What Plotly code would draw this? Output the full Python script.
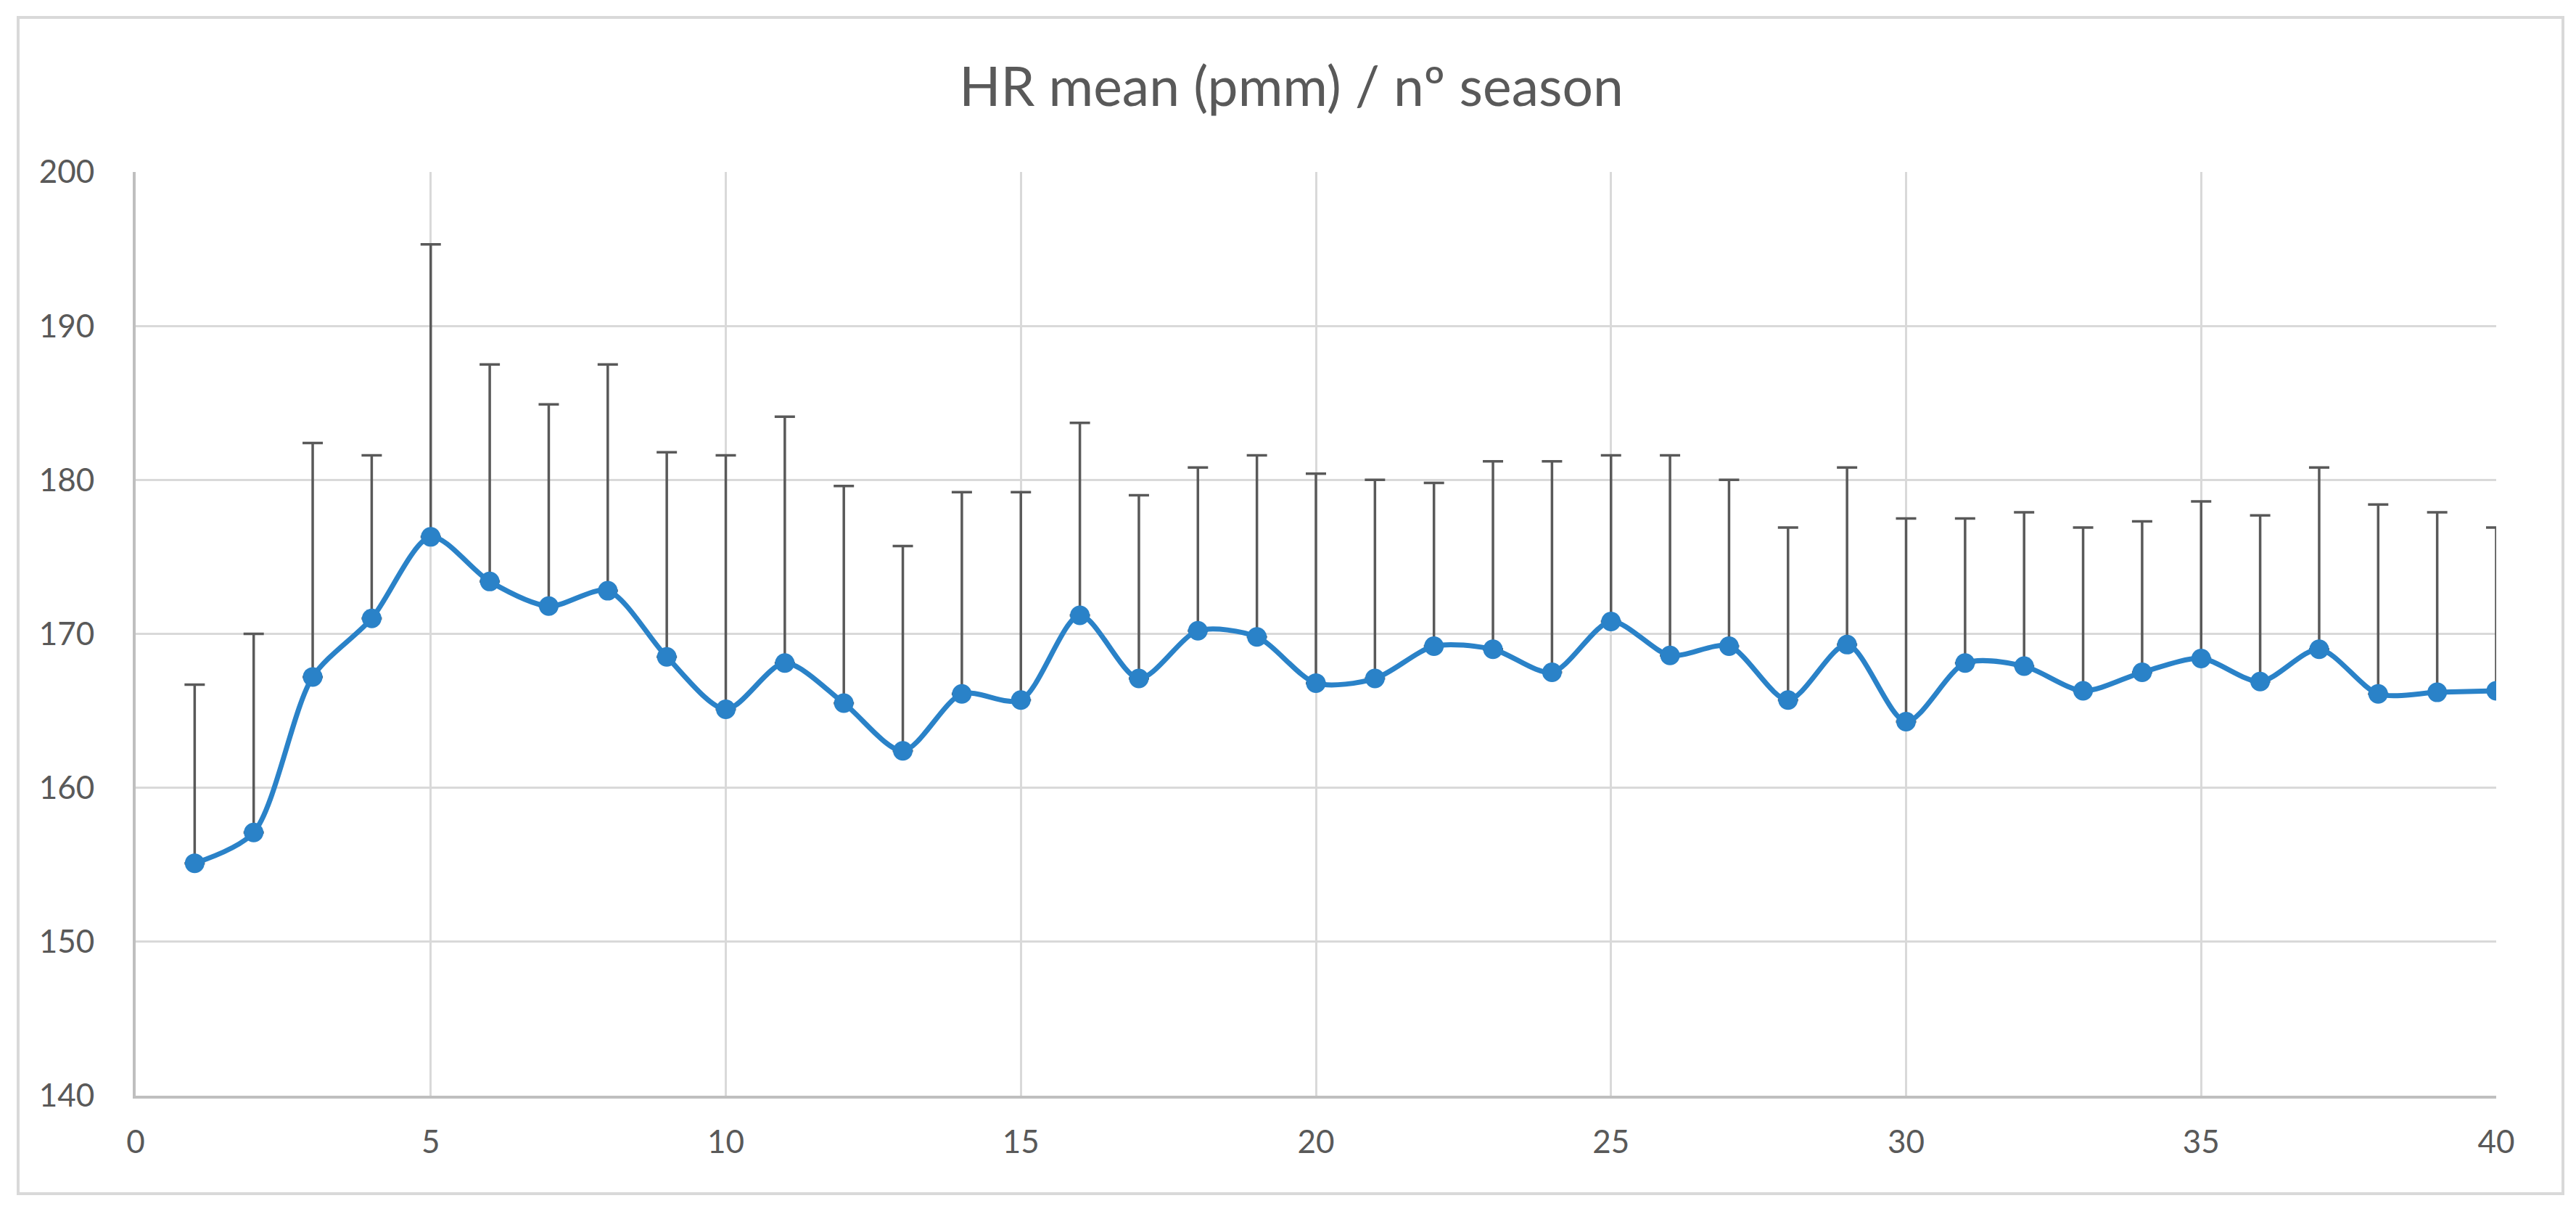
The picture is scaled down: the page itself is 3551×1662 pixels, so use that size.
import plotly.graph_objects as go

season = list(range(1, 41))
hr_mean = [155.1, 157.1, 167.2, 171.0, 176.3, 173.4, 171.8, 172.8, 168.5, 165.1,
           168.1, 165.5, 162.4, 166.1, 165.7, 171.2, 167.1, 170.2, 169.8, 166.8,
           167.1, 169.2, 169.0, 167.5, 170.8, 168.6, 169.2, 165.7, 169.3, 164.3,
           168.1, 167.9, 166.3, 167.5, 168.4, 166.9, 169.0, 166.1, 166.2, 166.3]
hr_upper = [166.7, 170.0, 182.4, 181.6, 195.3, 187.5, 184.9, 187.5, 181.8, 181.6,
            184.1, 179.6, 175.7, 179.2, 179.2, 183.7, 179.0, 180.8, 181.6, 180.4,
            180.0, 179.8, 181.2, 181.2, 181.6, 181.6, 180.0, 176.9, 180.8, 177.5,
            177.5, 177.9, 176.9, 177.3, 178.6, 177.7, 180.8, 178.4, 177.9, 176.9]
x_ticks = [0, 5, 10, 15, 20, 25, 30, 35, 40]
y_ticks = [140, 150, 160, 170, 180, 190, 200]
title_text = "HR mean (pmm) / nº season"

sd_plus = [u - m for u, m in zip(hr_upper, hr_mean)]

W, H = 3551, 1662
L, R, T, B = 179, 118, 229, 160
pw, ph = W - L - R, H - T - B

blue = "#2A82C8"
grid = "#d9d9d9"
txt = "#595959"
font_family = "Lato, 'Open Sans', sans-serif"

fig = go.Figure()
fig.add_trace(go.Scatter(
    x=season, y=hr_mean, mode="markers",
    marker=dict(color="rgba(0,0,0,0)", size=1),
    error_y=dict(type="data", array=sd_plus, symmetric=False,
                 arrayminus=[0] * len(sd_plus),
                 color=txt, thickness=3.5, width=14),
    hoverinfo="skip", showlegend=False,
))
fig.add_trace(go.Scatter(
    x=season, y=hr_mean, mode="lines+markers",
    line=dict(color=blue, width=7, shape="spline", smoothing=0.8),
    marker=dict(color=blue, size=27),
    showlegend=False,
))

# outer chart border (decorative)
def px_x(p):
    return (p - L) / pw

def px_y(p):
    return (H - B - p) / ph

fig.add_shape(type="rect", xref="paper", yref="paper",
              x0=px_x(17), x1=px_x(3525), y0=px_y(1637), y1=px_y(16),
              line=dict(color=grid, width=4), fillcolor="rgba(0,0,0,0)",
              layer="below")

fig.update_layout(
    width=W, height=H,
    margin=dict(l=L, r=R, t=T, b=B),
    paper_bgcolor="white", plot_bgcolor="white",
    font=dict(family=font_family, color=txt, size=44),
    title=dict(text=title_text, x=0.499, xref="container", xanchor="center",
               y=1 - 112 / H, yref="container", yanchor="middle",
               font=dict(size=75, color=txt, family=font_family)),
)
fig.update_xaxes(range=[0, 40], tickvals=x_ticks, ticktext=[str(v) for v in x_ticks],
                 showgrid=True, gridcolor=grid, gridwidth=3,
                 showline=True, linecolor="#bfbfbf", linewidth=4,
                 ticks="", zeroline=False, ticklabelstandoff=22,
                 tickfont=dict(size=44, color=txt))
fig.update_yaxes(range=[140, 200], tickvals=y_ticks, ticktext=[str(v) for v in y_ticks],
                 showgrid=True, gridcolor=grid, gridwidth=3,
                 showline=True, linecolor="#bfbfbf", linewidth=4,
                 ticks="", zeroline=False, ticklabelstandoff=44,
                 tickfont=dict(size=44, color=txt))

fig.write_html("out.html")
